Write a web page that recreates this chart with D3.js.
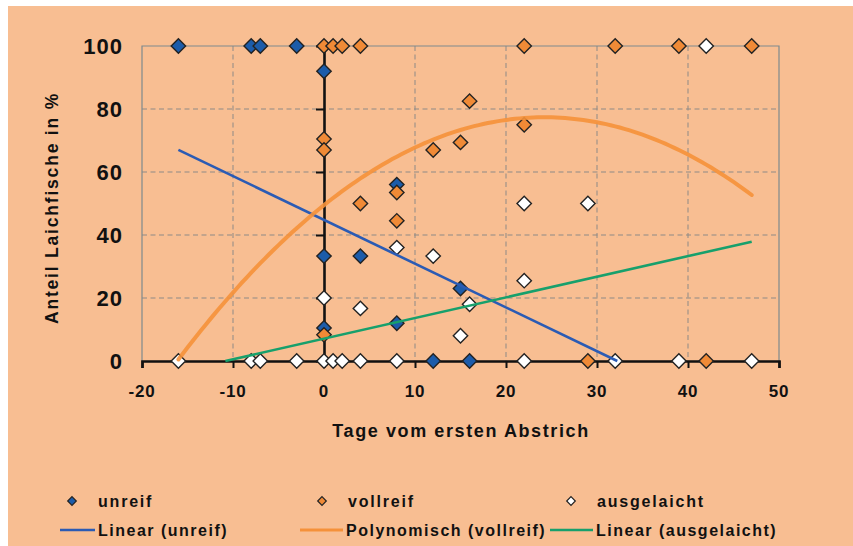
<!DOCTYPE html>
<html>
<head>
<meta charset="utf-8">
<script src="https://cdn.jsdelivr.net/npm/d3@7"></script>
<style>
  html, body { margin: 0; padding: 0; background: #ffffff; }
  svg { display: block; }
  text { font-family: "Liberation Sans", Arial, sans-serif; font-weight: bold; fill: #111; }
</style>
</head>
<body>
<svg id="chart" width="853" height="546"></svg>
<script>
// Days relative to the first stripping vs. share of spawners (%)
const unreifX = [-16, -8, -7, -3, 0, 0, 0, 4, 8, 8, 15, 12, 16];
const unreifY = [100, 100, 100, 100, 92, 33.3, 10.5, 33.3, 12, 56, 23, 0, 0];

const vollreifX = [0, 1, 2, 4, 22, 32, 39, 47, 0, 0, 0, 4, 8, 8, 12, 15, 16, 22, 29, 42];
const vollreifY = [100, 100, 100, 100, 100, 100, 100, 100, 70.5, 67, 8.3, 50, 53.5, 44.5, 67, 69.4, 82.5, 75, 0, 0];

const ausgelaichtX = [42, -16, -8, -7, -3, 0, 1, 2, 4, 8, 22, 32, 39, 47, 0, 4, 8, 12, 15, 16, 22, 22, 29];
const ausgelaichtY = [100, 0, 0, 0, 0, 0, 0, 0, 0, 0, 0, 0, 0, 0, 20, 16.7, 36, 33.3, 8, 18, 50, 25.5, 50];

// Trend lines: [intercept, slope] and polynomial coefficients [c0, c1, c2]
const linearUnreif = [44.8, -1.39];
const polyVollreif = [49.5, 2.302, -0.04753];
const linearAusgelaicht = [7.1, 0.655];
const polyRange = [-16, 47];
const unreifTrendStart = -16;
const ausgelaichtTrendEnd = 47;

const xTicks = [-20, -10, 0, 10, 20, 30, 40, 50];
const yTicks = [0, 20, 40, 60, 80, 100];

const xTitle = "Tage vom ersten Abstrich";
const yTitle = "Anteil Laichfische in %";

const legendItems = [
  ["unreif", "Linear (unreif)"],
  ["vollreif", "Polynomisch (vollreif)"],
  ["ausgelaicht", "Linear (ausgelaicht)"]
];

const colors = {
  bg: "#F8BE92",
  unreif: "#1C5CAA",
  vollreif: "#F08A36",
  ausgelaicht: "#FFFFFF",
  lineUnreif: "#2B5BB4",
  lineVollreif: "#F5913A",
  lineAusgelaicht: "#17A06C",
  grid: "#8E8A86",
  frame: "#7E8A8E"
};

const svg = d3.select("#chart");
svg.append("rect").attr("x", 8).attr("y", 6).attr("width", 845).attr("height", 540).attr("fill", colors.bg);

const x = d3.scaleLinear().domain([-20, 50]).range([142, 779]);
const y = d3.scaleLinear().domain([0, 100]).range([361, 46]);

// Gridlines
const grid = svg.append("g").attr("stroke", colors.grid).attr("stroke-width", 1).attr("stroke-dasharray", "5,3.5");
grid.selectAll("line.v").data(xTicks.filter(d => d !== -20 && d !== 50 && d !== 0)).join("line")
  .attr("x1", d => x(d)).attr("x2", d => x(d)).attr("y1", y(100)).attr("y2", y(0));
grid.selectAll("line.h").data(yTicks.filter(d => d !== 0 && d !== 100)).join("line")
  .attr("x1", x(-20)).attr("x2", x(50)).attr("y1", d => y(d)).attr("y2", d => y(d));

// Plot frame
svg.append("path")
  .attr("d", `M${x(-20)},${y(0)}V${y(100)}H${x(50)}V${y(0)}`)
  .attr("fill", "none").attr("stroke", colors.frame).attr("stroke-width", 1.2);

// Axes crossing at the origin
const xAxis = d3.axisBottom(x).tickValues(xTicks).tickSize(7).tickFormat("");
const gx = svg.append("g").attr("transform", `translate(0,${y(0)})`).call(xAxis);
gx.select(".domain").attr("stroke", "#111").attr("stroke-width", 2.6);
gx.selectAll(".tick line").attr("stroke", "#111").attr("stroke-width", 2);

const yAxis = d3.axisLeft(y).tickValues(yTicks).tickSize(8).tickSizeOuter(0).tickFormat("");
const gy = svg.append("g").attr("transform", `translate(${x(0)},0)`).call(yAxis);
gy.select(".domain").attr("stroke", "#111").attr("stroke-width", 2.6);
gy.selectAll(".tick line").attr("stroke", "#111").attr("stroke-width", 2);

// Tick labels
svg.append("g").selectAll("text").data(yTicks).join("text")
  .attr("x", 123).attr("y", d => y(d)).attr("dy", "0.36em")
  .attr("text-anchor", "end").style("font-size", "22px").style("letter-spacing", "1px")
  .text(d => d);
svg.append("g").selectAll("text").data(xTicks).join("text")
  .attr("x", d => x(d)).attr("y", 397)
  .attr("text-anchor", "middle").style("font-size", "17px").style("letter-spacing", "0.8px")
  .text(d => d);

// Axis titles
svg.append("text").attr("x", 461).attr("y", 437).attr("text-anchor", "middle")
  .style("font-size", "18px").style("letter-spacing", "1.6px").text(xTitle);
svg.append("text").attr("transform", "translate(58,208) rotate(-90)").attr("text-anchor", "middle")
  .style("font-size", "17.5px").style("letter-spacing", "1.8px").text(yTitle);

// Markers
const diamond = r => `M0,${-r}L${r},0L0,${r}L${-r},0Z`;
function drawSeries(xs, ys, fill) {
  svg.append("g").selectAll("path").data(xs.map((d, i) => [d, ys[i]])).join("path")
    .attr("d", diamond(7.2))
    .attr("transform", d => `translate(${x(d[0])},${y(d[1])})`)
    .attr("fill", fill).attr("stroke", "#222").attr("stroke-width", 1.4);
}
drawSeries(unreifX, unreifY, colors.unreif);
drawSeries(vollreifX, vollreifY, colors.vollreif);
drawSeries(ausgelaichtX, ausgelaichtY, colors.ausgelaicht);

// Trend lines
const line = d3.line().x(d => x(d[0])).y(d => y(d[1]));
const unreifEnd = -linearUnreif[0] / linearUnreif[1];
svg.append("path")
  .attr("d", line([[unreifTrendStart, linearUnreif[0] + linearUnreif[1] * unreifTrendStart], [unreifEnd, 0]]))
  .attr("fill", "none").attr("stroke", colors.lineUnreif).attr("stroke-width", 2.6);

const poly = t => polyVollreif[0] + polyVollreif[1] * t + polyVollreif[2] * t * t;
const polyPts = d3.range(polyRange[0], polyRange[1] + 0.001, 0.5).map(t => [t, Math.max(0, poly(t))]);
svg.append("path").attr("d", line.curve(d3.curveLinear)(polyPts))
  .attr("fill", "none").attr("stroke", colors.lineVollreif).attr("stroke-width", 4)
  .attr("stroke-linecap", "round").attr("opacity", 0.9);

const ausStart = -linearAusgelaicht[0] / linearAusgelaicht[1];
svg.append("path")
  .attr("d", line([[ausStart, 0], [ausgelaichtTrendEnd, linearAusgelaicht[0] + linearAusgelaicht[1] * ausgelaichtTrendEnd]]))
  .attr("fill", "none").attr("stroke", colors.lineAusgelaicht).attr("stroke-width", 2.6);

// Legend
const legendCols = [72, 322, 571];
const legendFill = [colors.unreif, colors.vollreif, colors.ausgelaicht];
const legendLine = [colors.lineUnreif, colors.lineVollreif, colors.lineAusgelaicht];
const legendLineX = [[60, 95], [300, 343], [550, 593]];
legendItems.forEach((item, i) => {
  svg.append("path").attr("d", diamond(4.3))
    .attr("transform", `translate(${legendCols[i]},501)`)
    .attr("fill", legendFill[i]).attr("stroke", "#222").attr("stroke-width", 1.2);
  svg.append("text").attr("x", legendCols[i] + 26).attr("y", 507)
    .style("font-size", "16px").style("letter-spacing", "1.8px").text(item[0]);
  svg.append("line").attr("x1", legendLineX[i][0]).attr("x2", legendLineX[i][1])
    .attr("y1", 530).attr("y2", 530)
    .attr("stroke", legendLine[i]).attr("stroke-width", i === 1 ? 3 : 2.4);
  svg.append("text").attr("x", legendLineX[i][1] + 3).attr("y", 536)
    .style("font-size", "16px").style("letter-spacing", "1.5px").text(item[1]);
});
</script>
</body>
</html>
